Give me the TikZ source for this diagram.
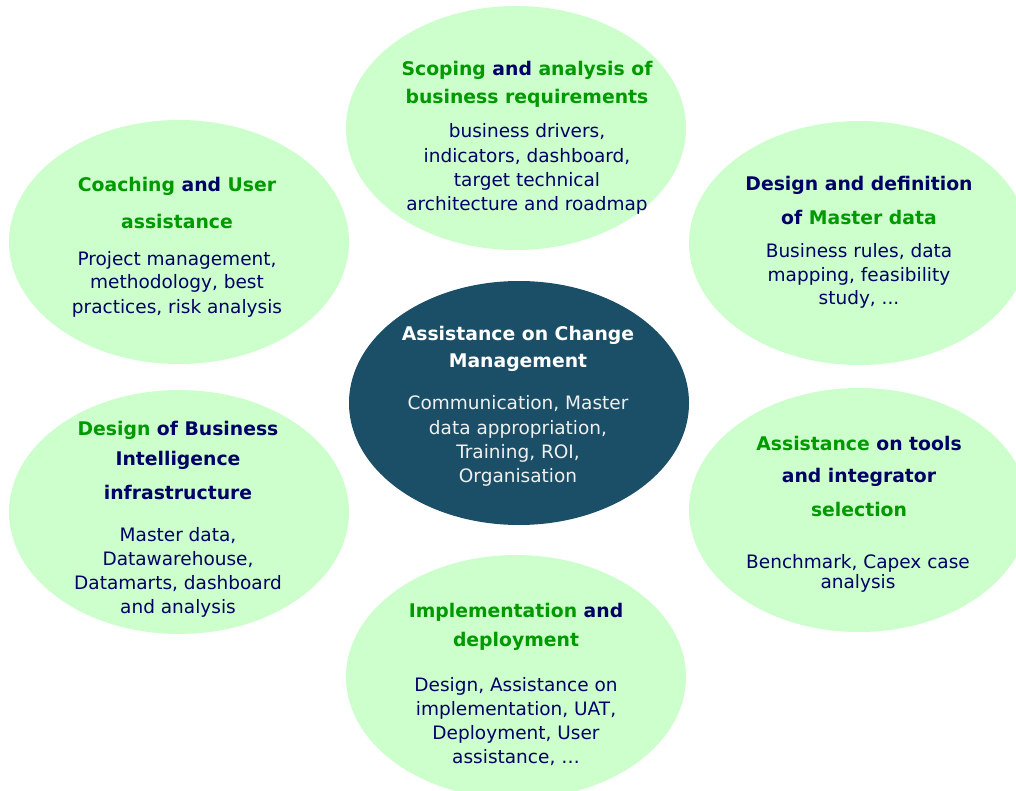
\documentclass[tikz,border=0pt]{standalone}
\usepackage{fontspec}
\setmainfont{DejaVu Sans}
\usetikzlibrary{shapes.geometric}
\definecolor{bubble}{RGB}{204,255,204}
\definecolor{hub}{RGB}{27,79,104}
\definecolor{navy}{RGB}{0,0,102}
\definecolor{grn}{RGB}{0,153,0}
\newcommand{\G}[1]{\textcolor{grn}{#1}}
\tikzset{
  bub/.style={ellipse, fill=bubble, draw=none, inner sep=0pt, minimum width=340pt, minimum height=244pt},
  hubst/.style={ellipse, fill=hub, draw=none, inner sep=0pt, minimum width=340pt, minimum height=244pt},
  ttl/.style={anchor=base, inner sep=0pt, text=navy, font=\fontsize{18.8}{20}\selectfont\bfseries},
  bod/.style={anchor=base, inner sep=0pt, text=navy, font=\fontsize{18.5}{20}\selectfont},
  wttl/.style={ttl, text=white},
  wbod/.style={bod, text=white!94!black},
}
\begin{document}
\begin{tikzpicture}[x=1pt,y=-1pt]
\useasboundingbox (0,0) rectangle (1016,791);
\fill[white] (0,0) rectangle (1016,791);
% ellipses
\node[bub] (top) at (516,128) {};
\node[bub] (lu) at (179,242) {};
\node[bub] (ru) at (859,243) {};
\node[hubst] (hub) at (519,403) {};
\node[bub] (ll) at (179,512) {};
\node[bub] (rl) at (859,510) {};
\node[bub] (bot) at (516,677) {};
% top
\node[ttl] (t1) at (527,76) {\G{Scoping} and \G{analysis of}};
\node[ttl] (t2) at (527,104) {\G{business requirements}};
\node[bod] (t3) at (527,138) {business drivers,};
\node[bod] (t4) at (527,163) {indicators, dashboard,};
\node[bod] (t5) at (527,187) {target technical};
\node[bod] (t6) at (527,211) {architecture and roadmap};
% left upper
\node[ttl] (a1) at (177,192) {\G{Coaching} and \G{User}};
\node[ttl] (a2) at (177,229) {\G{assistance}};
\node[bod] (a3) at (177,266) {Project management,};
\node[bod] (a4) at (177,289) {methodology, best};
\node[bod] (a5) at (177,313) {practices, risk analysis};
% right upper
\node[ttl] (b1) at (859,191) {Design and definition};
\node[ttl] (b2) at (859,225) {of \G{Master data}};
\node[bod] (b3) at (859,258) {Business rules, data};
\node[bod] (b4) at (859,282) {mapping, feasibility};
\node[bod] (b5) at (859,305) {study, ...};
% center
\node[wttl] (c1) at (518,340) {Assistance on Change};
\node[wttl] (c2) at (518,367) {Management};
\node[wbod] (c3) at (518,409) {Communication, Master};
\node[wbod] (c4) at (518,434) {data appropriation,};
\node[wbod] (c5) at (518,458) {Training, ROI,};
\node[wbod] (c6) at (518,482) {Organisation};
% left lower
\node[ttl] (d1) at (178,435) {\G{Design} of Business};
\node[ttl] (d2) at (178,465) {Intelligence};
\node[ttl] (d3) at (178,499) {infrastructure};
\node[bod] (d4) at (178,541) {Master data,};
\node[bod] (d5) at (178,565) {Datawarehouse,};
\node[bod] (d6) at (178,589) {Datamarts, dashboard};
\node[bod] (d7) at (178,613) {and analysis};
% right lower
\node[ttl] (e1) at (859,450) {\G{Assistance} on tools};
\node[ttl] (e2) at (859,482) {and integrator};
\node[ttl] (e3) at (859,516) {\G{selection}};
\node[bod] (e4) at (858,568) {Benchmark, Capex case};
\node[bod] (e5) at (858,588) {analysis};
% bottom
\node[ttl] (f1) at (516,617) {\G{Implementation} and};
\node[ttl] (f2) at (516,646) {\G{deployment}};
\node[bod] (f3) at (516,691) {Design, Assistance on};
\node[bod] (f4) at (516,715) {implementation, UAT,};
\node[bod] (f5) at (516,739) {Deployment, User};
\node[bod] (f6) at (516,763) {assistance, \ldots};
\end{tikzpicture}
\end{document}
